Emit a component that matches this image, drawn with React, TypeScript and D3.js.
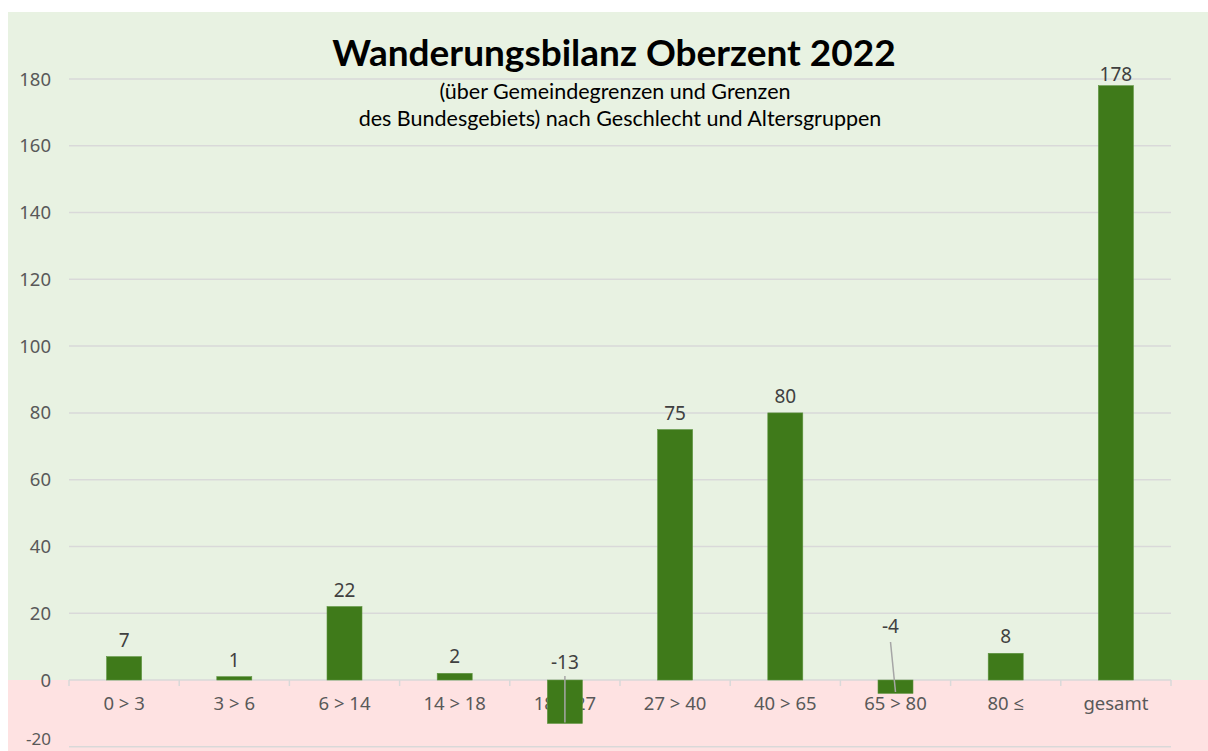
import React from 'react';
import * as d3 from 'd3';

const categories = ['0 > 3', '3 > 6', '6 > 14', '14 > 18', '18 > 27', '27 > 40', '40 > 65', '65 > 80', '80 ≤', 'gesamt'];
const values = [7, 1, 22, 2, -13, 75, 80, -4, 8, 178];
const yTicks = [-20, 0, 20, 40, 60, 80, 100, 120, 140, 160, 180];

const W = 1208;
const H = 751;
const FONT = "'Noto Sans', 'Open Sans', sans-serif";
const TITLE_FONT = "Lato, 'Noto Sans', sans-serif";

const App: React.FC = () => {
  // plot area
  const left = 69;
  const right = 1171;

  const x = d3.scaleBand<string>().domain(categories).range([left, right]).padding(0);
  const y = d3.scaleLinear().domain([-20, 180]).range([746.8, 79]);
  const barW = 35;
  const zeroY = y(0);

  return (
    <svg width={W} height={H} style={{ position: 'absolute', left: 0, top: 0, background: '#fff' }}>
      {/* background panels */}
      <rect x={8} y={12} width={W - 8} height={zeroY - 12} fill="#E8F2E2" />
      <rect x={8} y={zeroY} width={W - 8} height={H - zeroY} fill="#FEE2E2" />

      {/* gridlines */}
      {yTicks.map((t) => (
        <line key={t} x1={left} x2={right} y1={y(t)} y2={y(t)} stroke="#d9d9d9" strokeWidth={1.5} />
      ))}

      {/* y tick labels (bottom one nudged up so it stays inside the page) */}
      {yTicks.map((t) => (
        <text
          key={'l' + t}
          x={51}
          y={Math.min(y(t) + 6.5, 745)}
          textAnchor="end"
          fontFamily={FONT}
          fontSize={t === -20 ? 17 : 18.5}
          fill="#595959"
        >
          {t}
        </text>
      ))}

      {/* x axis ticks */}
      {categories.map((c) => (
        <line key={'t' + c} x1={x(c)!} x2={x(c)!} y1={zeroY} y2={zeroY + 6} stroke="#d9d9d9" strokeWidth={1.5} />
      ))}
      <line x1={right} x2={right} y1={zeroY} y2={zeroY + 6} stroke="#d9d9d9" strokeWidth={1.5} />

      {/* x labels */}
      {categories.map((c) => (
        <text
          key={'x' + c}
          x={x(c)! + x.bandwidth() / 2}
          y={zeroY + 30}
          textAnchor="middle"
          fontFamily={FONT}
          fontSize={18.5}
          fill="#595959"
        >
          {c}
        </text>
      ))}

      {/* bars */}
      {values.map((v, i) => {
        const cx = x(categories[i])! + x.bandwidth() / 2;
        const y0 = Math.min(y(v), zeroY);
        const h = Math.abs(y(v) - zeroY);
        return (
          <rect key={'b' + i} x={cx - barW / 2} y={y0} width={barW} height={h} fill="#3F7A1A" stroke="#5E9440" strokeWidth={0.6} />
        );
      })}

      {/* data labels */}
      {values.map((v, i) => {
        const cx = x(categories[i])! + x.bandwidth() / 2;
        if (v >= 0) {
          const ly = Math.max(y(v) - 10, 81);
          return (
            <text key={'d' + i} x={cx} y={ly} textAnchor="middle" fontFamily={FONT} fontSize={19} fill="#404040">
              {v}
            </text>
          );
        }
        // negative values: label above zero with a leader line down into the bar
        const lx = v === -4 ? cx - 5 : cx;
        const ly = v === -4 ? zeroY - 47 : zeroY - 11;
        return (
          <g key={'d' + i}>
            <line
              x1={lx}
              y1={v === -4 ? ly + 9 : ly + 7}
              x2={cx}
              y2={v === -4 ? zeroY + 12 : y(v) - 1}
              stroke="#a6a6a6"
              strokeWidth={1.5}
            />
            <text x={lx} y={ly} textAnchor="middle" fontFamily={FONT} fontSize={19} fill="#404040">
              {v}
            </text>
          </g>
        );
      })}

      {/* titles */}
      <text x={614} y={66} textAnchor="middle" fontFamily={TITLE_FONT} fontWeight={700} fontSize={37} fill="#000">
        Wanderungsbilanz Oberzent 2022
      </text>
      <text x={615} y={99} textAnchor="middle" fontFamily={TITLE_FONT} fontSize={21.5} fill="#000">
        (über Gemeindegrenzen  und Grenzen
      </text>
      <text x={620} y={126} textAnchor="middle" fontFamily={TITLE_FONT} fontSize={21.5} fill="#000">
        des Bundesgebiets) nach Geschlecht und Altersgruppen
      </text>
    </svg>
  );
};

export default App;
